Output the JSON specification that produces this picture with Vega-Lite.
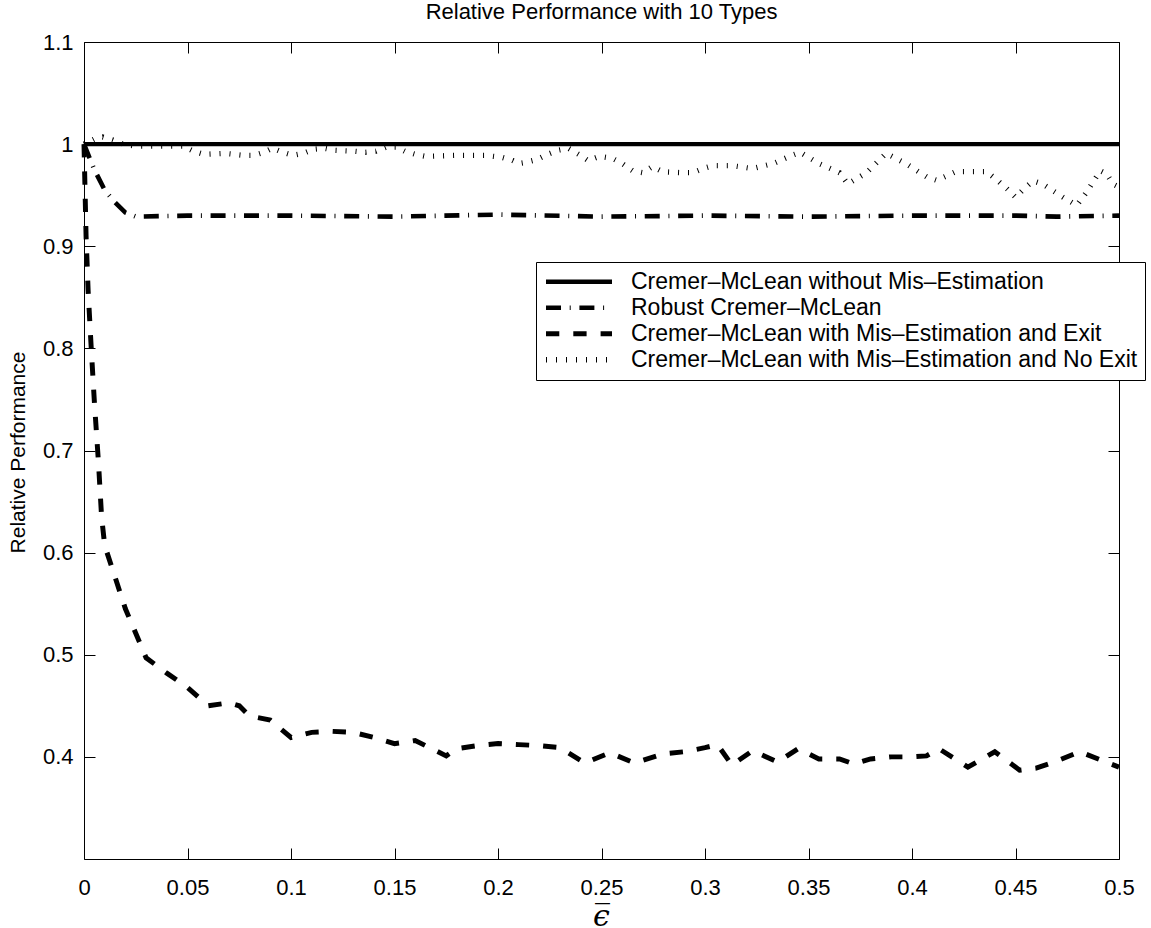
{
  "$schema": "https://vega.github.io/schema/vega-lite/v6.json",
  "width": 1035,
  "height": 817,
  "autosize": {"type": "none"},
  "padding": {"left": 84, "top": 42, "right": 32, "bottom": 69},
  "background": "white",
  "config": {
    "view": {"stroke": "black", "strokeWidth": 1},
    "font": "Liberation Sans"
  },
  "title": {
    "text": "Relative Performance with 10 Types",
    "fontSize": 22,
    "fontWeight": "normal",
    "font": "Liberation Sans",
    "color": "black",
    "anchor": "middle",
    "baseline": "bottom",
    "offset": -15
  },
  "data": {
    "values": [
      {"s": "Cremer–McLean without Mis–Estimation", "x": 0, "y": 1.0},
      {"s": "Cremer–McLean without Mis–Estimation", "x": 0.25, "y": 1.0},
      {"s": "Cremer–McLean without Mis–Estimation", "x": 0.5, "y": 1.0},

      {"s": "Robust Cremer–McLean", "x": 0, "y": 1.0},
      {"s": "Robust Cremer–McLean", "x": 0.005, "y": 0.975},
      {"s": "Robust Cremer–McLean", "x": 0.01, "y": 0.955},
      {"s": "Robust Cremer–McLean", "x": 0.015, "y": 0.943},
      {"s": "Robust Cremer–McLean", "x": 0.02, "y": 0.933},
      {"s": "Robust Cremer–McLean", "x": 0.025, "y": 0.929},
      {"s": "Robust Cremer–McLean", "x": 0.05, "y": 0.930},
      {"s": "Robust Cremer–McLean", "x": 0.1, "y": 0.930},
      {"s": "Robust Cremer–McLean", "x": 0.15, "y": 0.929},
      {"s": "Robust Cremer–McLean", "x": 0.2, "y": 0.931},
      {"s": "Robust Cremer–McLean", "x": 0.25, "y": 0.929},
      {"s": "Robust Cremer–McLean", "x": 0.3, "y": 0.930},
      {"s": "Robust Cremer–McLean", "x": 0.35, "y": 0.929},
      {"s": "Robust Cremer–McLean", "x": 0.4, "y": 0.930},
      {"s": "Robust Cremer–McLean", "x": 0.45, "y": 0.930},
      {"s": "Robust Cremer–McLean", "x": 0.47, "y": 0.929},
      {"s": "Robust Cremer–McLean", "x": 0.5, "y": 0.930},

      {"s": "Cremer–McLean with Mis–Estimation and Exit", "x": 0, "y": 1.0},
      {"s": "Cremer–McLean with Mis–Estimation and Exit", "x": 0.001, "y": 0.91},
      {"s": "Cremer–McLean with Mis–Estimation and Exit", "x": 0.002, "y": 0.856},
      {"s": "Cremer–McLean with Mis–Estimation and Exit", "x": 0.0035, "y": 0.80},
      {"s": "Cremer–McLean with Mis–Estimation and Exit", "x": 0.005, "y": 0.748},
      {"s": "Cremer–McLean with Mis–Estimation and Exit", "x": 0.007, "y": 0.688},
      {"s": "Cremer–McLean with Mis–Estimation and Exit", "x": 0.0085, "y": 0.635},
      {"s": "Cremer–McLean with Mis–Estimation and Exit", "x": 0.01, "y": 0.607},
      {"s": "Cremer–McLean with Mis–Estimation and Exit", "x": 0.02, "y": 0.545},
      {"s": "Cremer–McLean with Mis–Estimation and Exit", "x": 0.03, "y": 0.497},
      {"s": "Cremer–McLean with Mis–Estimation and Exit", "x": 0.04, "y": 0.482},
      {"s": "Cremer–McLean with Mis–Estimation and Exit", "x": 0.05, "y": 0.468},
      {"s": "Cremer–McLean with Mis–Estimation and Exit", "x": 0.06, "y": 0.450},
      {"s": "Cremer–McLean with Mis–Estimation and Exit", "x": 0.07, "y": 0.453},
      {"s": "Cremer–McLean with Mis–Estimation and Exit", "x": 0.075, "y": 0.450},
      {"s": "Cremer–McLean with Mis–Estimation and Exit", "x": 0.08, "y": 0.440},
      {"s": "Cremer–McLean with Mis–Estimation and Exit", "x": 0.09, "y": 0.436},
      {"s": "Cremer–McLean with Mis–Estimation and Exit", "x": 0.1, "y": 0.419},
      {"s": "Cremer–McLean with Mis–Estimation and Exit", "x": 0.11, "y": 0.424},
      {"s": "Cremer–McLean with Mis–Estimation and Exit", "x": 0.12, "y": 0.425},
      {"s": "Cremer–McLean with Mis–Estimation and Exit", "x": 0.13, "y": 0.424},
      {"s": "Cremer–McLean with Mis–Estimation and Exit", "x": 0.14, "y": 0.419},
      {"s": "Cremer–McLean with Mis–Estimation and Exit", "x": 0.15, "y": 0.413},
      {"s": "Cremer–McLean with Mis–Estimation and Exit", "x": 0.16, "y": 0.416},
      {"s": "Cremer–McLean with Mis–Estimation and Exit", "x": 0.17, "y": 0.406},
      {"s": "Cremer–McLean with Mis–Estimation and Exit", "x": 0.175, "y": 0.401},
      {"s": "Cremer–McLean with Mis–Estimation and Exit", "x": 0.18, "y": 0.408},
      {"s": "Cremer–McLean with Mis–Estimation and Exit", "x": 0.19, "y": 0.411},
      {"s": "Cremer–McLean with Mis–Estimation and Exit", "x": 0.2, "y": 0.413},
      {"s": "Cremer–McLean with Mis–Estimation and Exit", "x": 0.21, "y": 0.412},
      {"s": "Cremer–McLean with Mis–Estimation and Exit", "x": 0.22, "y": 0.411},
      {"s": "Cremer–McLean with Mis–Estimation and Exit", "x": 0.23, "y": 0.409},
      {"s": "Cremer–McLean with Mis–Estimation and Exit", "x": 0.242, "y": 0.394},
      {"s": "Cremer–McLean with Mis–Estimation and Exit", "x": 0.254, "y": 0.404},
      {"s": "Cremer–McLean with Mis–Estimation and Exit", "x": 0.266, "y": 0.394},
      {"s": "Cremer–McLean with Mis–Estimation and Exit", "x": 0.28, "y": 0.403},
      {"s": "Cremer–McLean with Mis–Estimation and Exit", "x": 0.29, "y": 0.405},
      {"s": "Cremer–McLean with Mis–Estimation and Exit", "x": 0.3, "y": 0.409},
      {"s": "Cremer–McLean with Mis–Estimation and Exit", "x": 0.306, "y": 0.412},
      {"s": "Cremer–McLean with Mis–Estimation and Exit", "x": 0.313, "y": 0.392},
      {"s": "Cremer–McLean with Mis–Estimation and Exit", "x": 0.323, "y": 0.406},
      {"s": "Cremer–McLean with Mis–Estimation and Exit", "x": 0.335, "y": 0.395},
      {"s": "Cremer–McLean with Mis–Estimation and Exit", "x": 0.345, "y": 0.408},
      {"s": "Cremer–McLean with Mis–Estimation and Exit", "x": 0.355, "y": 0.398},
      {"s": "Cremer–McLean with Mis–Estimation and Exit", "x": 0.365, "y": 0.398},
      {"s": "Cremer–McLean with Mis–Estimation and Exit", "x": 0.372, "y": 0.393},
      {"s": "Cremer–McLean with Mis–Estimation and Exit", "x": 0.38, "y": 0.398},
      {"s": "Cremer–McLean with Mis–Estimation and Exit", "x": 0.39, "y": 0.400},
      {"s": "Cremer–McLean with Mis–Estimation and Exit", "x": 0.4, "y": 0.400},
      {"s": "Cremer–McLean with Mis–Estimation and Exit", "x": 0.407, "y": 0.401},
      {"s": "Cremer–McLean with Mis–Estimation and Exit", "x": 0.413, "y": 0.408},
      {"s": "Cremer–McLean with Mis–Estimation and Exit", "x": 0.427, "y": 0.390},
      {"s": "Cremer–McLean with Mis–Estimation and Exit", "x": 0.44, "y": 0.405},
      {"s": "Cremer–McLean with Mis–Estimation and Exit", "x": 0.452, "y": 0.387},
      {"s": "Cremer–McLean with Mis–Estimation and Exit", "x": 0.46, "y": 0.389},
      {"s": "Cremer–McLean with Mis–Estimation and Exit", "x": 0.47, "y": 0.396},
      {"s": "Cremer–McLean with Mis–Estimation and Exit", "x": 0.481, "y": 0.405},
      {"s": "Cremer–McLean with Mis–Estimation and Exit", "x": 0.5, "y": 0.390},

      {"s": "Cremer–McLean with Mis–Estimation and No Exit", "x": 0, "y": 1.0},
      {"s": "Cremer–McLean with Mis–Estimation and No Exit", "x": 0.005, "y": 1.005},
      {"s": "Cremer–McLean with Mis–Estimation and No Exit", "x": 0.009, "y": 1.007},
      {"s": "Cremer–McLean with Mis–Estimation and No Exit", "x": 0.014, "y": 1.004},
      {"s": "Cremer–McLean with Mis–Estimation and No Exit", "x": 0.019, "y": 1.0},
      {"s": "Cremer–McLean with Mis–Estimation and No Exit", "x": 0.025, "y": 0.998},
      {"s": "Cremer–McLean with Mis–Estimation and No Exit", "x": 0.048, "y": 0.998},
      {"s": "Cremer–McLean with Mis–Estimation and No Exit", "x": 0.053, "y": 0.993},
      {"s": "Cremer–McLean with Mis–Estimation and No Exit", "x": 0.058, "y": 0.990},
      {"s": "Cremer–McLean with Mis–Estimation and No Exit", "x": 0.068, "y": 0.991},
      {"s": "Cremer–McLean with Mis–Estimation and No Exit", "x": 0.077, "y": 0.989},
      {"s": "Cremer–McLean with Mis–Estimation and No Exit", "x": 0.082, "y": 0.989},
      {"s": "Cremer–McLean with Mis–Estimation and No Exit", "x": 0.087, "y": 0.992},
      {"s": "Cremer–McLean with Mis–Estimation and No Exit", "x": 0.091, "y": 0.996},
      {"s": "Cremer–McLean with Mis–Estimation and No Exit", "x": 0.096, "y": 0.992},
      {"s": "Cremer–McLean with Mis–Estimation and No Exit", "x": 0.101, "y": 0.989},
      {"s": "Cremer–McLean with Mis–Estimation and No Exit", "x": 0.106, "y": 0.991},
      {"s": "Cremer–McLean with Mis–Estimation and No Exit", "x": 0.111, "y": 0.995},
      {"s": "Cremer–McLean with Mis–Estimation and No Exit", "x": 0.116, "y": 0.996},
      {"s": "Cremer–McLean with Mis–Estimation and No Exit", "x": 0.121, "y": 0.994},
      {"s": "Cremer–McLean with Mis–Estimation and No Exit", "x": 0.131, "y": 0.993},
      {"s": "Cremer–McLean with Mis–Estimation and No Exit", "x": 0.136, "y": 0.992},
      {"s": "Cremer–McLean with Mis–Estimation and No Exit", "x": 0.141, "y": 0.993},
      {"s": "Cremer–McLean with Mis–Estimation and No Exit", "x": 0.146, "y": 0.997},
      {"s": "Cremer–McLean with Mis–Estimation and No Exit", "x": 0.151, "y": 0.997},
      {"s": "Cremer–McLean with Mis–Estimation and No Exit", "x": 0.155, "y": 0.993},
      {"s": "Cremer–McLean with Mis–Estimation and No Exit", "x": 0.16, "y": 0.990},
      {"s": "Cremer–McLean with Mis–Estimation and No Exit", "x": 0.165, "y": 0.988},
      {"s": "Cremer–McLean with Mis–Estimation and No Exit", "x": 0.18, "y": 0.989},
      {"s": "Cremer–McLean with Mis–Estimation and No Exit", "x": 0.194, "y": 0.989},
      {"s": "Cremer–McLean with Mis–Estimation and No Exit", "x": 0.202, "y": 0.987},
      {"s": "Cremer–McLean with Mis–Estimation and No Exit", "x": 0.207, "y": 0.984},
      {"s": "Cremer–McLean with Mis–Estimation and No Exit", "x": 0.21, "y": 0.981},
      {"s": "Cremer–McLean with Mis–Estimation and No Exit", "x": 0.213, "y": 0.982},
      {"s": "Cremer–McLean with Mis–Estimation and No Exit", "x": 0.219, "y": 0.985},
      {"s": "Cremer–McLean with Mis–Estimation and No Exit", "x": 0.224, "y": 0.990},
      {"s": "Cremer–McLean with Mis–Estimation and No Exit", "x": 0.229, "y": 0.994},
      {"s": "Cremer–McLean with Mis–Estimation and No Exit", "x": 0.234, "y": 0.996},
      {"s": "Cremer–McLean with Mis–Estimation and No Exit", "x": 0.239, "y": 0.990},
      {"s": "Cremer–McLean with Mis–Estimation and No Exit", "x": 0.2435, "y": 0.984},
      {"s": "Cremer–McLean with Mis–Estimation and No Exit", "x": 0.249, "y": 0.988},
      {"s": "Cremer–McLean with Mis–Estimation and No Exit", "x": 0.2553, "y": 0.986},
      {"s": "Cremer–McLean with Mis–Estimation and No Exit", "x": 0.26, "y": 0.981},
      {"s": "Cremer–McLean with Mis–Estimation and No Exit", "x": 0.265, "y": 0.974},
      {"s": "Cremer–McLean with Mis–Estimation and No Exit", "x": 0.27, "y": 0.972},
      {"s": "Cremer–McLean with Mis–Estimation and No Exit", "x": 0.2746, "y": 0.978},
      {"s": "Cremer–McLean with Mis–Estimation and No Exit", "x": 0.2795, "y": 0.973},
      {"s": "Cremer–McLean with Mis–Estimation and No Exit", "x": 0.289, "y": 0.972},
      {"s": "Cremer–McLean with Mis–Estimation and No Exit", "x": 0.294, "y": 0.972},
      {"s": "Cremer–McLean with Mis–Estimation and No Exit", "x": 0.299, "y": 0.976},
      {"s": "Cremer–McLean with Mis–Estimation and No Exit", "x": 0.304, "y": 0.979},
      {"s": "Cremer–McLean with Mis–Estimation and No Exit", "x": 0.313, "y": 0.979},
      {"s": "Cremer–McLean with Mis–Estimation and No Exit", "x": 0.323, "y": 0.976},
      {"s": "Cremer–McLean with Mis–Estimation and No Exit", "x": 0.333, "y": 0.981},
      {"s": "Cremer–McLean with Mis–Estimation and No Exit", "x": 0.342, "y": 0.989},
      {"s": "Cremer–McLean with Mis–Estimation and No Exit", "x": 0.346, "y": 0.992},
      {"s": "Cremer–McLean with Mis–Estimation and No Exit", "x": 0.355, "y": 0.981},
      {"s": "Cremer–McLean with Mis–Estimation and No Exit", "x": 0.365, "y": 0.972},
      {"s": "Cremer–McLean with Mis–Estimation and No Exit", "x": 0.369, "y": 0.961},
      {"s": "Cremer–McLean with Mis–Estimation and No Exit", "x": 0.378, "y": 0.972},
      {"s": "Cremer–McLean with Mis–Estimation and No Exit", "x": 0.3875, "y": 0.991},
      {"s": "Cremer–McLean with Mis–Estimation and No Exit", "x": 0.397, "y": 0.981},
      {"s": "Cremer–McLean with Mis–Estimation and No Exit", "x": 0.407, "y": 0.968},
      {"s": "Cremer–McLean with Mis–Estimation and No Exit", "x": 0.412, "y": 0.9645},
      {"s": "Cremer–McLean with Mis–Estimation and No Exit", "x": 0.421, "y": 0.973},
      {"s": "Cremer–McLean with Mis–Estimation and No Exit", "x": 0.436, "y": 0.973},
      {"s": "Cremer–McLean with Mis–Estimation and No Exit", "x": 0.441, "y": 0.965},
      {"s": "Cremer–McLean with Mis–Estimation and No Exit", "x": 0.446, "y": 0.956},
      {"s": "Cremer–McLean with Mis–Estimation and No Exit", "x": 0.45, "y": 0.948},
      {"s": "Cremer–McLean with Mis–Estimation and No Exit", "x": 0.454, "y": 0.956},
      {"s": "Cremer–McLean with Mis–Estimation and No Exit", "x": 0.4585, "y": 0.964},
      {"s": "Cremer–McLean with Mis–Estimation and No Exit", "x": 0.463, "y": 0.961},
      {"s": "Cremer–McLean with Mis–Estimation and No Exit", "x": 0.473, "y": 0.948},
      {"s": "Cremer–McLean with Mis–Estimation and No Exit", "x": 0.4795, "y": 0.940},
      {"s": "Cremer–McLean with Mis–Estimation and No Exit", "x": 0.484, "y": 0.952},
      {"s": "Cremer–McLean with Mis–Estimation and No Exit", "x": 0.491, "y": 0.974},
      {"s": "Cremer–McLean with Mis–Estimation and No Exit", "x": 0.494, "y": 0.971},
      {"s": "Cremer–McLean with Mis–Estimation and No Exit", "x": 0.497, "y": 0.961},
      {"s": "Cremer–McLean with Mis–Estimation and No Exit", "x": 0.5, "y": 0.958}
    ]
  },
  "layer": [
    {
      "mark": {"type": "line", "color": "black", "strokeCap": "butt"},
      "encoding": {
        "x": {
          "field": "x", "type": "quantitative",
          "scale": {"domain": [0, 0.5], "nice": false, "zero": false},
          "axis": {
            "orient": "bottom",
            "values": [0, 0.05, 0.1, 0.15, 0.2, 0.25, 0.3, 0.35, 0.4, 0.45, 0.5],
            "format": "~g",
            "grid": false, "domain": false,
            "tickSize": -11, "tickColor": "black", "tickWidth": 1,
            "labelFontSize": 22, "labelColor": "black", "labelFont": "Liberation Sans",
            "labelPadding": 29, "labelFlush": false,
            "title": "ϵ̅",
            "titleFont": "DejaVu Serif", "titleFontSize": 30, "titleFontWeight": "normal",
            "titleFontStyle": "italic", "titleColor": "black",
            "titleX": 517, "titleY": 66, "titleBaseline": "alphabetic", "titleAlign": "center"
          }
        },
        "y": {
          "field": "y", "type": "quantitative",
          "scale": {"domain": [0.3, 1.1], "nice": false, "zero": false},
          "axis": {
            "orient": "left",
            "values": [0.4, 0.5, 0.6, 0.7, 0.8, 0.9, 1, 1.1],
            "format": "~g",
            "grid": false, "domain": false,
            "tickSize": -11, "tickColor": "black", "tickWidth": 1,
            "labelFontSize": 22, "labelColor": "black", "labelFont": "Liberation Sans",
            "labelPadding": 22, "labelFlush": false,
            "title": "Relative Performance",
            "titleFont": "Liberation Sans", "titleFontSize": 21, "titleFontWeight": "normal",
            "titleColor": "black", "titleAngle": 270,
            "titleX": -66, "titleY": 410, "titleBaseline": "middle", "titleAlign": "center"
          }
        },
        "strokeDash": {
          "field": "s", "type": "nominal",
          "scale": {
            "domain": ["Cremer–McLean without Mis–Estimation", "Robust Cremer–McLean", "Cremer–McLean with Mis–Estimation and Exit", "Cremer–McLean with Mis–Estimation and No Exit"],
            "range": [[1, 0], [15, 8.7, 1, 8.7], [13.3, 14], [1, 9]]
          },
          "legend": {
            "title": null,
            "orient": "none",
            "legendX": 452,
            "legendY": 220,
            "direction": "vertical",
            "fillColor": "white",
            "strokeColor": "black",
            "padding": 7,
            "symbolType": "stroke",
            "symbolSize": 4356,
            "symbolStrokeWidth": 5,
            "symbolStrokeColor": "black",
            "clipHeight": 25.5,
            "rowPadding": 0,
            "labelOffset": 16,
            "labelFont": "Liberation Sans",
            "labelFontSize": 23,
            "labelColor": "black",
            "labelLimit": 1000
          }
        },
        "strokeWidth": {
          "field": "s", "type": "nominal",
          "scale": {
            "domain": ["Cremer–McLean without Mis–Estimation", "Robust Cremer–McLean", "Cremer–McLean with Mis–Estimation and Exit", "Cremer–McLean with Mis–Estimation and No Exit"],
            "range": [4.3, 5.3, 5.8, 5]
          },
          "legend": null
        }
      }
    },
    {
      "mark": {"type": "point", "opacity": 0},
      "encoding": {
        "x": {
          "field": "x", "type": "quantitative",
          "axis": {
            "orient": "top",
            "values": [0, 0.05, 0.1, 0.15, 0.2, 0.25, 0.3, 0.35, 0.4, 0.45, 0.5],
            "labels": false, "grid": false, "domain": false, "title": null,
            "tickSize": -11, "tickColor": "black", "tickWidth": 1,
            "minExtent": 0, "maxExtent": 0
          }
        },
        "y": {
          "field": "y", "type": "quantitative",
          "axis": {
            "orient": "right",
            "values": [0.4, 0.5, 0.6, 0.7, 0.8, 0.9, 1, 1.1],
            "labels": false, "grid": false, "domain": false, "title": null,
            "tickSize": -11, "tickColor": "black", "tickWidth": 1,
            "minExtent": 0, "maxExtent": 0
          }
        }
      }
    }
  ],
  "resolve": {"axis": {"x": "independent", "y": "independent"}}
}
